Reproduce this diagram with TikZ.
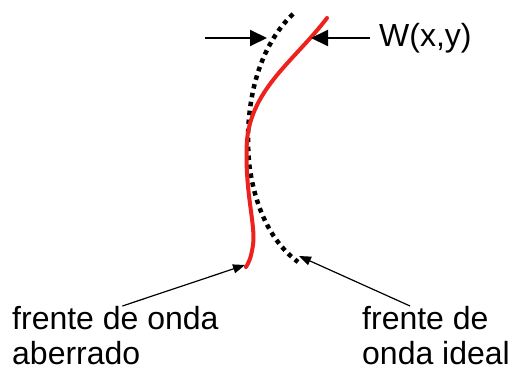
\documentclass[tikz,border=0pt]{standalone}
\usepackage{fontspec}
\setmainfont{Liberation Sans}
\usepackage{tikz}
\usetikzlibrary{arrows.meta, positioning}
\definecolor{frontred}{RGB}{238,34,28}

\begin{document}
\begin{tikzpicture}[
    x=1pt, y=-1pt,
    every node/.style={font=\fontsize{32}{35}\selectfont, inner sep=0pt},
    aberrated/.style={draw=frontred, line width=4pt, line cap=round},
    ideal/.style={draw=black, line width=4.5pt, dash pattern=on 4.5pt off 4.5pt},
    gap/.style={line width=2pt, -{Triangle[length=17pt,width=16pt]}},
    pointer/.style={line width=1.2pt, -{Triangle[length=12pt,width=9pt]}}
]
\useasboundingbox (0,0) rectangle (513,381);

% Wavefronts
\draw[ideal] (293,14) .. controls (250,55) and (244,125) .. (250,170)
    .. controls (257,215) and (275,245) .. (298,262);
\draw[aberrated] (327,18) .. controls (295,60) and (252,88) .. (247,140)
    .. controls (244,190) and (256,225) .. (253,245)
    .. controls (251,258) and (249,262) .. (246,267);

% Nodes
\coordinate (idealtop) at (267,38);
\coordinate (abertop) at (311,38);
\coordinate (leftend) at (205,38);
\coordinate (rightend) at (370,38);
\coordinate (aberend) at (245,265);
\coordinate (idealend) at (299,256);

\node[anchor=west] (wxy) at (379,38) {W(x,y)};
\node[anchor=north west, align=left] (aberr) at (12,306) {frente de onda\\aberrado};
\node[anchor=north west, align=left] (plane) at (362,306) {frente de\\onda ideal};

% Distance between the fronts
\draw[gap] (leftend) -- (idealtop);
\draw[gap] (rightend) -- (abertop);

% Label pointers
\draw[pointer] ([xshift=7pt]aberr.north) -- (aberend);
\draw[pointer] ([xshift=-26pt]plane.north) -- (idealend);

\end{tikzpicture}
\end{document}
